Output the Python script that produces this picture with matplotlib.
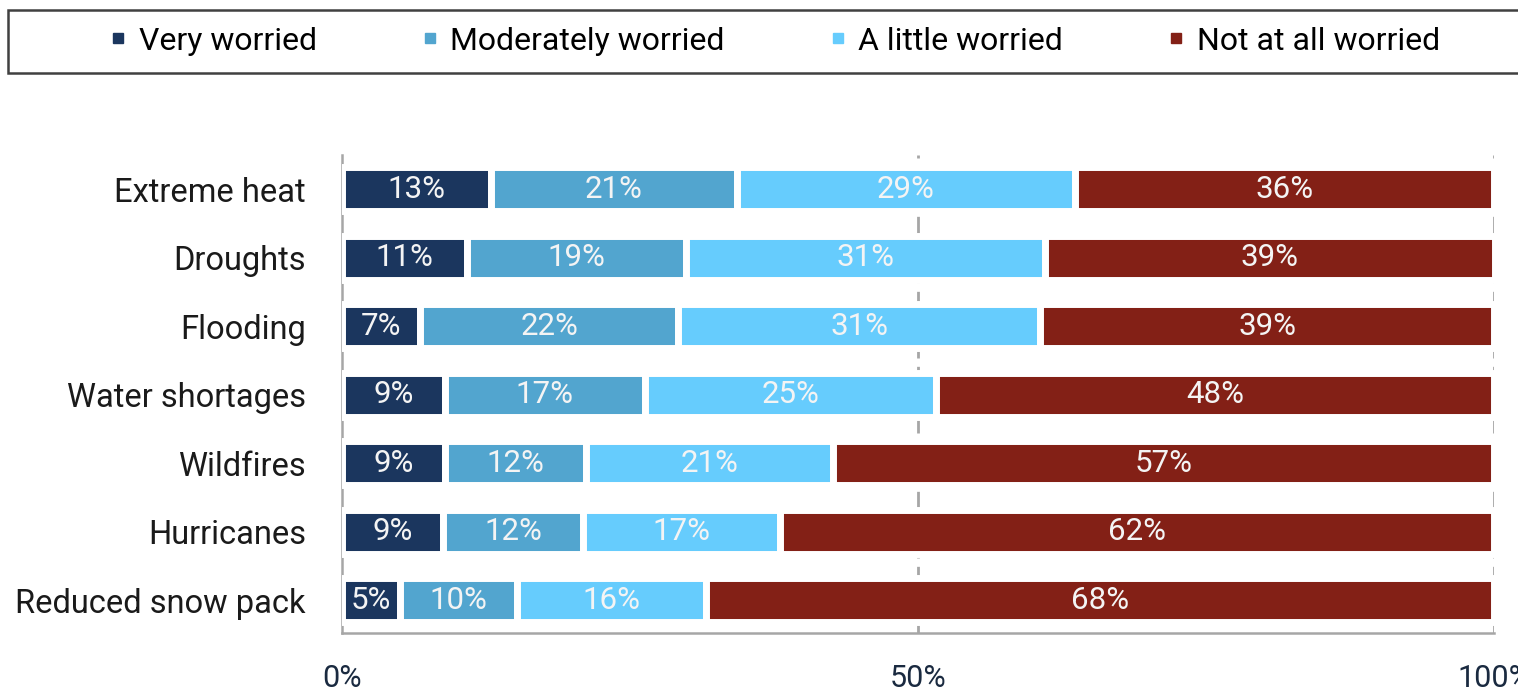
import matplotlib
matplotlib.use("Agg")
import matplotlib.pyplot as plt
from matplotlib.patches import Rectangle
from matplotlib.lines import Line2D

FONT = "Roboto"

categories = ["Extreme heat", "Droughts", "Flooding", "Water shortages",
              "Wildfires", "Hurricanes", "Reduced snow pack"]
series_names = ["Very worried", "Moderately worried", "A little worried", "Not at all worried"]
very = [12.9, 10.85, 6.8, 8.9, 8.9, 8.8, 5.0]
moderately = [21.4, 19.0, 22.4, 17.4, 12.3, 12.1, 10.2]
little = [29.3, 31.2, 31.4, 25.3, 21.4, 17.1, 16.4]
not_at_all = [36.4, 39.0, 39.4, 48.4, 57.4, 62.0, 68.4]
xticks = [0, 50, 100]
xtick_labels = ["0%", "50%", "100%"]
colors = ["#1b365e", "#52a5cf", "#66ccfd", "#832016"]

fig = plt.figure(figsize=(15.18, 6.92), dpi=100)
ax = fig.add_axes([342/1518, 1-633/692, (1494-342)/1518, (633-155)/692])

n = len(categories)
ypos = list(range(n - 1, -1, -1))
left = [0.0] * n
for vals, col in zip([very, moderately, little, not_at_all], colors):
    ax.barh(ypos, vals, left=left, height=0.64, color=col,
            edgecolor="white", linewidth=5, zorder=3)
    for y, v, l in zip(ypos, vals, left):
        ax.text(l + v / 2, y, f"{round(v)}%", ha="center", va="center",
                color="#f4f4f4", fontsize=22.5, family=FONT, zorder=4)
    left = [a + b for a, b in zip(left, vals)]

for xv in [50, 100]:
    ax.axvline(xv, color="#a6a6a6", lw=2, ls=(0, (6, 3)), zorder=1)

ax.set_xlim(0, 100)
ax.set_ylim(-0.48, n - 0.5)
ax.set_yticks(ypos)
ax.set_yticklabels(categories, fontsize=23.5, family=FONT, color="#1a1a1a")
ax.set_xticks(xticks)
ax.set_xticklabels(xtick_labels, fontsize=22, family=FONT, color="#1a2a40")
ax.tick_params(axis="y", length=0, pad=26)
ax.tick_params(axis="x", length=0, pad=22)
for s in ["top", "right"]:
    ax.spines[s].set_visible(False)
for s in ["left", "bottom"]:
    ax.spines[s].set_color("#a6a6a6")
    ax.spines[s].set_linewidth(1.8)

# legend frame
fig.patches.append(Rectangle((8/1518, 1-73/692), 1.2, (73-10)/692,
                             transform=fig.transFigure, facecolor="white",
                             edgecolor="#404040", lw=1.8, zorder=0))
handles = [Line2D([], [], marker="s", ls="", color=c, markersize=7) for c in colors]
fig.legend(handles, series_names, ncol=4, loc="center",
           bbox_to_anchor=(775/1518, 1-41/692), frameon=False,
           prop={"family": FONT, "size": 23}, handlelength=0.5,
           handletextpad=0.4, columnspacing=3.28)

fig.savefig("out.png", dpi=100)
